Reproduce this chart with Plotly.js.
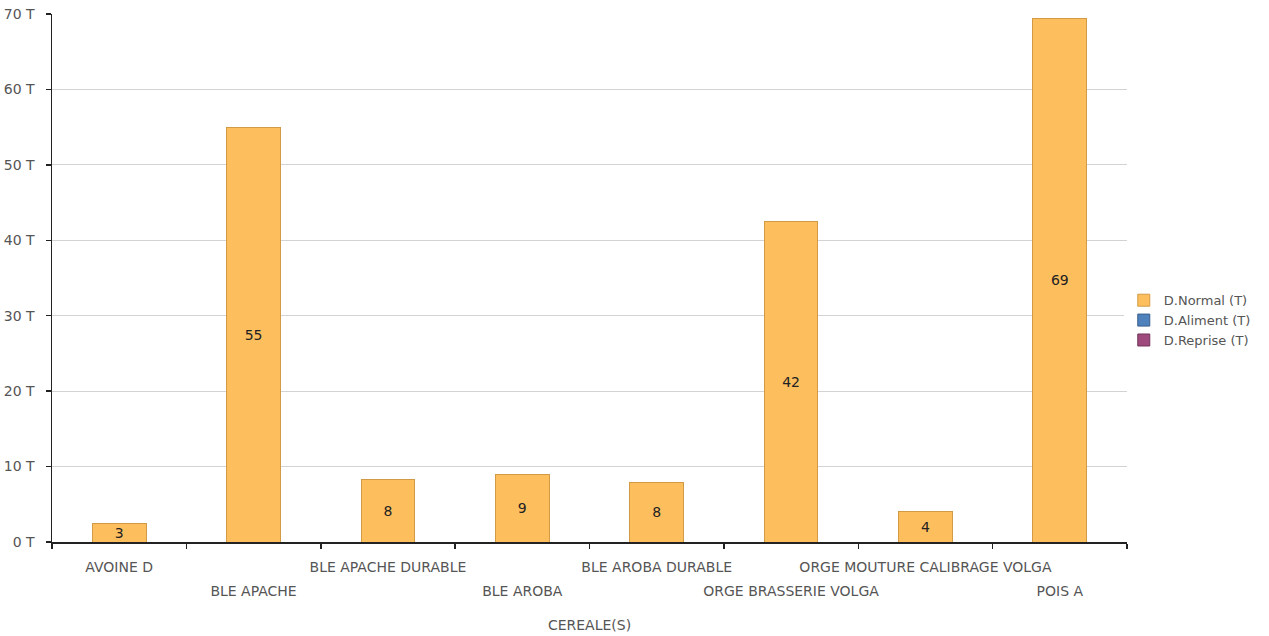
<!DOCTYPE html>
<html>
<head>
<meta charset="utf-8">
<script src="https://cdn.plot.ly/plotly-3.0.1.min.js"></script>
<style>html,body{margin:0;padding:0;background:#fff;}#chart{width:1269px;height:636px;}</style>
</head>
<body>
<div id="chart"></div>
<script>
const categories = ["AVOINE D","BLE APACHE","BLE APACHE DURABLE","BLE AROBA","BLE AROBA DURABLE","ORGE BRASSERIE VOLGA","ORGE MOUTURE CALIBRAGE VOLGA","POIS A"];
const normalValues = [2.5, 55.0, 8.3, 8.9, 7.9, 42.5, 4.0, 69.4];
const normalLabels = ["3","55","8","9","8","42","4","69"];
const alimentValues = [null,null,null,null,null,null,null,null];
const repriseValues = [null,null,null,null,null,null,null,null];
const seriesNames = ["D.Normal (T)","D.Aliment (T)","D.Reprise (T)"];
const yTickSuffix = " T";
const xAxisTitle = "CEREALE(S)";

const font = "DejaVu Sans, sans-serif";
const fs = 14;
const labelColor = "#555";
const rowOneText = categories.map((c,i)=> i%2===0 ? c : "");
const rowTwoText = categories.map((c,i)=> i%2===1 ? c : "");

const traces = [
  {type:"bar", name:seriesNames[0], x:categories, y:normalValues, text:normalLabels,
   textposition:"inside", insidetextanchor:"middle", constraintext:"none", textangle:0,
   textfont:{family:font,size:fs,color:"#222"},
   marker:{color:"#FDBF5E", line:{color:"#D39A45", width:1}}, width:0.4},
  {type:"bar", name:seriesNames[1], x:categories, y:alimentValues, xaxis:"x2",
   marker:{color:"#4F81BD", line:{color:"#385D8A", width:1}}, width:0.4},
  {type:"bar", name:seriesNames[2], x:categories, y:repriseValues, xaxis:"x2",
   marker:{color:"#9E4A7C", line:{color:"#713559", width:1}}, width:0.4}
];

const layout = {
  width:1269, height:636,
  margin:{l:52, r:142, t:14, b:94},
  paper_bgcolor:"#fff", plot_bgcolor:"#fff",
  barmode:"stack",
  font:{family:font, size:fs, color:labelColor},
  showlegend:true,
  legend:{x:0.997, xanchor:"left", y:0.42, yanchor:"middle", borderwidth:0, tracegroupgap:0,
          font:{family:font,size:13,color:labelColor}, itemwidth:30, traceorder:"normal"},
  xaxis:{
    type:"category", range:[-0.5,7.5], tickmode:"array", tickvals:categories, ticktext:rowOneText,
    tickson:"boundaries", ticks:"outside", ticklen:5, tickcolor:"#222", tickwidth:1.5,
    showline:true, linecolor:"#222", linewidth:1.5, showgrid:false,
    tickangle:0, ticklabelstandoff:12, tickfont:{family:font,size:fs,color:labelColor},
    title:{text:xAxisTitle, font:{family:font,size:fs,color:labelColor}, standoff:46},
    automargin:false, fixedrange:true
  },
  xaxis2:{
    type:"category", overlaying:"x", anchor:"y", side:"bottom", range:[-0.5,7.5],
    tickmode:"array", tickvals:categories, ticktext:rowTwoText,
    ticks:"", showline:false, showgrid:false, zeroline:false,
    tickangle:0, ticklabelstandoff:39, tickfont:{family:font,size:fs,color:labelColor},
    automargin:false
  },
  yaxis:{
    range:[0,70], dtick:10, ticksuffix:yTickSuffix,
    ticks:"outside", ticklen:5, tickcolor:"#222", tickwidth:1.5,
    showline:true, linecolor:"#222", linewidth:1.5,
    showgrid:true, gridcolor:"#D3D3D3", gridwidth:1, zeroline:false,
    ticklabelstandoff:8, tickfont:{family:font,size:fs,color:labelColor}, automargin:false
  }
};

Plotly.newPlot("chart", traces, layout, {displayModeBar:false, staticPlot:true});
</script>
</body>
</html>
